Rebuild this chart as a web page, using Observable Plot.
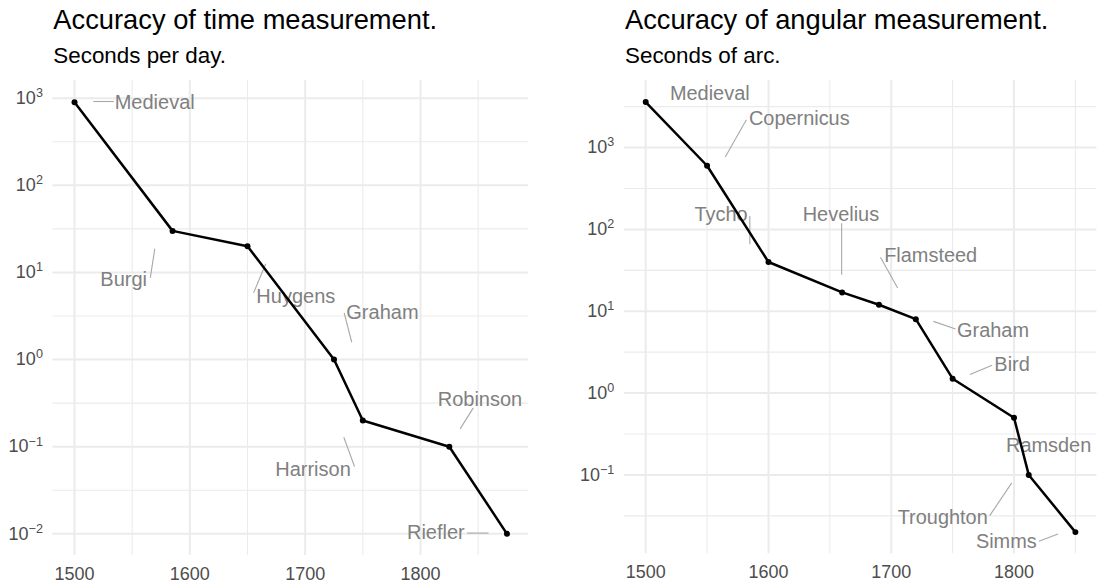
<!DOCTYPE html>
<html><head><meta charset="utf-8">
<script src="https://cdn.jsdelivr.net/npm/d3@7"></script>
<script src="https://cdn.jsdelivr.net/npm/@observablehq/plot@0.6"></script>
<style>
body{margin:0;background:#fff;}
#root{position:relative;width:1097px;height:583px;overflow:hidden;font-family:"Liberation Sans",Arial,Helvetica,sans-serif;}
.title{position:absolute;font-size:27.3px;line-height:27.3px;color:#000;white-space:nowrap;}
.subtitle{position:absolute;font-size:22.4px;line-height:22.4px;color:#000;white-space:nowrap;}
.panel{position:absolute;top:70px;}
</style></head><body><div id="root"></div>
<script>
// ---- Time measurement (seconds per day)
const timeYears  = [1500, 1585, 1650, 1725, 1750, 1825, 1875];
const timeValues = [900, 30, 20, 1, 0.2, 0.1, 0.01];
const timeNames  = ["Medieval", "Burgi", "Huygens", "Graham", "Harrison", "Robinson", "Riefler"];
// repelled label anchors (data units)
const timeLabelYears  = [1569.5, 1542.6, 1691.9, 1767.0, 1706.8, 1851.6, 1813.3];
const timeLabelValues = [900, 8.3, 5.33, 3.5, 0.0543, 0.348, 0.0102];
const timeSegments = [
  [1516.2, 916, 1534.1, 916],
  [1565.7, 8.67, 1569.6, 18.7],
  [1655.3, 5.83, 1665.8, 12.56],
  [1733.8, 3.44, 1740.4, 1.58],
  [1742.8, 0.0593, 1733.5, 0.1285],
  [1845.8, 0.279, 1834.4, 0.160],
  [1840.4, 0.0102, 1859.0, 0.0102]
];
const timeYTicks = [0.01, 0.1, 1, 10, 100, 1000];

// ---- Angular measurement (seconds of arc)
const angleYears  = [1500, 1550, 1600, 1660, 1690, 1720, 1750, 1800, 1812, 1850];
const angleValues = [3600, 600, 40, 17, 12, 8, 1.5, 0.5, 0.1, 0.02];
const angleNames  = ["Medieval", "Copernicus", "Tycho", "Hevelius", "Flamsteed", "Graham", "Bird", "Ramsden", "Troughton", "Simms"];
const angleLabelYears  = [1552.2, 1625.1, 1561.4, 1659.0, 1732.1, 1782.9, 1798.4, 1828.2, 1741.9, 1793.7];
const angleLabelValues = [4540, 2254, 150, 152.8, 47.5, 5.85, 2.23, 0.2307, 0.0304, 0.01535];
const angleSegments = [
  null,
  [1582.0, 2193, 1564.8, 769],
  [1584.8, 145.7, 1584.8, 65.9],
  [1659.6, 118.8, 1659.6, 27.9],
  [1691.2, 45.8, 1705.2, 19.2],
  [1752.4, 6.08, 1734.3, 7.52],
  [1782.1, 2.19, 1764.1, 1.69],
  null,
  [1780.2, 0.0318, 1798.0, 0.0795],
  [1820.2, 0.0155, 1835.8, 0.0190]
];
const angleYTicks = [0.1, 1, 10, 100, 1000];

const yearTicks = [1500, 1600, 1700, 1800];

const root = document.getElementById("root");
const GRID = "#ebebeb", AXIS = "#4d4d4d", LABEL = "#808080", SEG = "#a8a8a8";
const FONT = '"Liberation Sans", Arial, Helvetica, sans-serif';

function addText(cls, txt, left, top) {
  const d = document.createElement("div");
  d.className = cls; d.textContent = txt;
  d.style.left = left + "px"; d.style.top = top + "px";
  root.appendChild(d);
}

function makePanel(o) {
  const logs = o.values.map(Math.log10);
  const [l0, l1] = d3.extent(logs);
  const lp = (l1 - l0) * 0.05;
  const yDomain = [10 ** (l0 - lp), 10 ** (l1 + lp)];
  const [x0, x1] = d3.extent(o.years);
  const xp = (x1 - x0) * 0.05;
  const xDomain = [x0 - xp, x1 + xp];
  const minorY = d3.range(Math.floor(l0 - lp) - 1, Math.ceil(l1 + lp) + 1)
    .map(k => 10 ** (k + 0.5)).filter(v => v >= yDomain[0] && v <= yDomain[1]);
  const step = yearTicks[1] - yearTicks[0];
  const minorX = d3.range(yearTicks[0] - step / 2, xDomain[1], step)
    .filter(v => v >= xDomain[0] && v <= xDomain[1]);
  const rows = o.years.map((y, i) => ({year: y, value: o.values[i], name: o.names[i]}));
  const labels = o.names.map((n, i) => ({name: n, year: o.labelYears[i], value: o.labelValues[i]}));
  const segs = o.segments.filter(s => s).map(s => ({x1: s[0], y1: s[1], x2: s[2], y2: s[3]}));

  const H = 513, top = 10.1, bottom = 28.1;
  const svg = Plot.plot({
    width: o.width, height: H,
    marginLeft: o.marginLeft, marginRight: o.marginRight, marginTop: top, marginBottom: bottom,
    x: {domain: xDomain, range: [o.marginLeft, o.width - o.marginRight], label: null},
    y: {type: "log", domain: yDomain, range: [H - bottom, top], label: null},
    style: {fontFamily: FONT, background: "transparent", overflow: "visible"},
    marks: [
      Plot.ruleY(minorY, {stroke: GRID, strokeWidth: 1.1}),
      Plot.ruleX(minorX, {stroke: GRID, strokeWidth: 1.1}),
      Plot.ruleY(o.yTicks, {stroke: GRID, strokeWidth: 2}),
      Plot.ruleX(yearTicks, {stroke: GRID, strokeWidth: 2}),
      Plot.link(segs, {x1: "x1", y1: "y1", x2: "x2", y2: "y2", stroke: SEG, strokeWidth: 1.1}),
      Plot.text(labels, {x: "year", y: "value", text: "name", fill: LABEL, fontSize: 20,
        textAnchor: "middle", lineAnchor: "middle"}),
      Plot.line(rows, {x: "year", y: "value", stroke: "#000", strokeWidth: 2.5}),
      Plot.dot(rows, {x: "year", y: "value", r: 3, fill: "#000", stroke: "none"}),
      Plot.axisX(yearTicks, {tickSize: 0, tickPadding: 11.8, fontSize: 18, color: AXIS, label: null,
        tickFormat: d => String(d)}),
      Plot.axisY(o.yTicks, {tickSize: 0, tickPadding: 10, fontSize: 18, color: AXIS, label: null,
        tickFormat: d => "10^" + String(Math.round(Math.log10(d))).replace("-", "\u2212")})
    ]
  });
  const ns = "http://www.w3.org/2000/svg";
  svg.querySelectorAll('g[aria-label="y-axis tick label"] text').forEach(t => {
    const [b, e] = t.textContent.split("^");
    t.textContent = "";
    const a = document.createElementNS(ns, "tspan"); a.textContent = b; t.appendChild(a);
    const c = document.createElementNS(ns, "tspan"); c.textContent = e;
    c.setAttribute("font-size", "0.7em"); c.setAttribute("dy", "-0.55em"); t.appendChild(c);
  });
  const wrap = document.createElement("div");
  wrap.className = "panel"; wrap.style.left = o.left + "px";
  wrap.appendChild(svg);
  root.appendChild(wrap);
}

addText("title", "Accuracy of time measurement.", 53.3, 6.2);
addText("subtitle", "Seconds per day.", 53.3, 45);
addText("title", "Accuracy of angular measurement.", 625, 6.2);
addText("subtitle", "Seconds of arc.", 625, 45);

makePanel({years: timeYears, values: timeValues, names: timeNames,
  labelYears: timeLabelYears, labelValues: timeLabelValues, segments: timeSegments,
  yTicks: timeYTicks, left: 0, width: 548, marginLeft: 52.4, marginRight: 19.9});
makePanel({years: angleYears, values: angleValues, names: angleNames,
  labelYears: angleLabelYears, labelValues: angleLabelValues, segments: angleSegments,
  yTicks: angleYTicks, left: 548, width: 551, marginLeft: 76, marginRight: 0.6});
</script></body></html>
